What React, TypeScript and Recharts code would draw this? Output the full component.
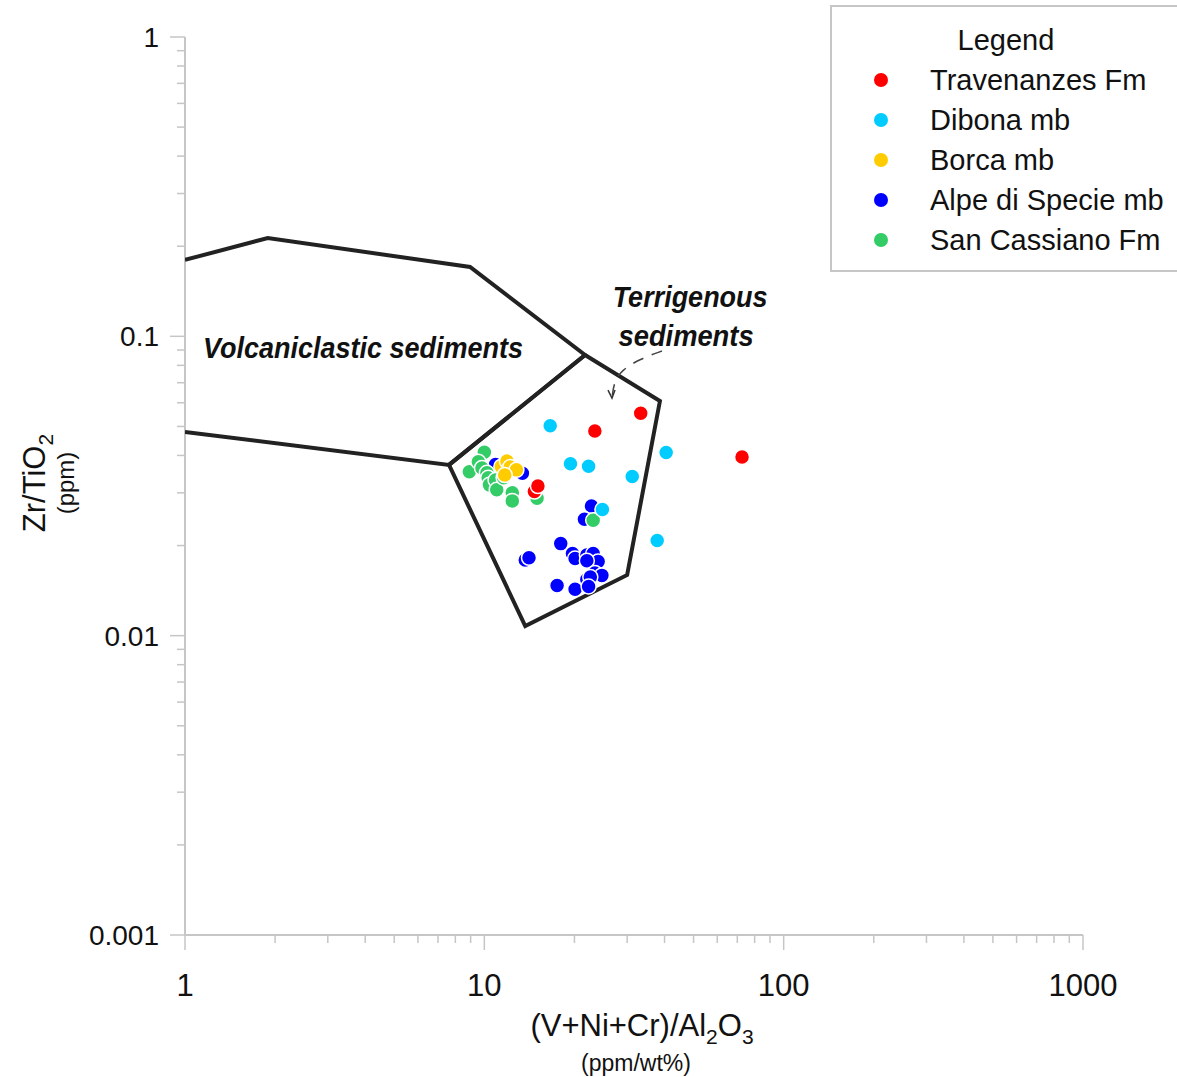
import React from 'react';
import { ScatterChart, Scatter, XAxis, YAxis } from 'recharts';

// tick values (decades get a label, the rest are minor ticks)
const xDecades = [1, 10, 100];
const yDecades = [0.001, 0.01, 0.1];
const minorSteps = [1, 2, 3, 4, 5, 6, 7, 8, 9];
const xTicks = [...xDecades.flatMap((d) => minorSteps.map((m) => +(d * m).toPrecision(3))), 1000];
const yTicks = [...yDecades.flatMap((d) => minorSteps.map((m) => +(d * m).toPrecision(3))), 1];

// sample series, (V+Ni+Cr)/Al2O3 vs Zr/TiO2
const travenanzes = [
  { x: 33.3, y: 0.0553 },
  { x: 23.4, y: 0.0483 },
  { x: 14.7, y: 0.0303 },
  { x: 15.1, y: 0.0316 },
  { x: 72.6, y: 0.0395 },
];

const dibona = [
  { x: 16.6, y: 0.0503 },
  { x: 19.4, y: 0.0375 },
  { x: 22.3, y: 0.0368 },
  { x: 31.2, y: 0.034 },
  { x: 40.5, y: 0.0409 },
  { x: 24.8, y: 0.0264 },
  { x: 37.8, y: 0.0208 },
];

const borca = [
  { x: 11.4, y: 0.0367 },
  { x: 11.9, y: 0.0383 },
  { x: 12.2, y: 0.0366 },
  { x: 12.8, y: 0.0358 },
  { x: 11.7, y: 0.0344 },
];

const alpe = [
  { x: 10.9, y: 0.0373 },
  { x: 13.4, y: 0.0349 },
  { x: 22.8, y: 0.0271 },
  { x: 21.6, y: 0.0245 },
  { x: 18.0, y: 0.0203 },
  { x: 13.7, y: 0.0179 },
  { x: 14.1, y: 0.0182 },
  { x: 19.7, y: 0.0188 },
  { x: 20.1, y: 0.0181 },
  { x: 22.0, y: 0.0186 },
  { x: 23.1, y: 0.0188 },
  { x: 24.0, y: 0.0177 },
  { x: 22.0, y: 0.0178 },
  { x: 23.4, y: 0.0162 },
  { x: 24.7, y: 0.0159 },
  { x: 22.0, y: 0.0154 },
  { x: 22.6, y: 0.0157 },
  { x: 17.5, y: 0.0147 },
  { x: 20.1, y: 0.0143 },
  { x: 22.3, y: 0.0146 },
];

const sanCassiano = [
  { x: 10.0, y: 0.041 },
  { x: 8.91, y: 0.0353 },
  { x: 9.55, y: 0.0381 },
  { x: 9.82, y: 0.0363 },
  { x: 10.2, y: 0.035 },
  { x: 10.3, y: 0.0337 },
  { x: 10.4, y: 0.0319 },
  { x: 10.9, y: 0.0331 },
  { x: 11.0, y: 0.0307 },
  { x: 11.6, y: 0.0337 },
  { x: 12.4, y: 0.03 },
  { x: 12.4, y: 0.0282 },
  { x: 15.0, y: 0.0288 },
  { x: 23.1, y: 0.0243 },
];

// field boundaries
const volcaniclasticField = [
  { x: 1, y: 0.18 },
  { x: 1.89, y: 0.213 },
  { x: 8.96, y: 0.1705 },
  { x: 21.7, y: 0.0866 },
  { x: 7.62, y: 0.0372 },
  { x: 1, y: 0.0479 },
];

const terrigenousField = [
  { x: 21.7, y: 0.0866 },
  { x: 38.6, y: 0.0608 },
  { x: 30.0, y: 0.01595 },
  { x: 13.7, y: 0.01077 },
  { x: 7.62, y: 0.0372 },
  { x: 21.7, y: 0.0866 },
];

const arrowPath = [
  { x: 39.2, y: 0.0893 },
  { x: 33.1, y: 0.084 },
  { x: 28.8, y: 0.0772 },
  { x: 27.1, y: 0.0704 },
  { x: 26.7, y: 0.0622 },
];

const series = [
  { name: 'Alpe di Specie mb', color: '#0000ff', data: alpe },
  { name: 'San Cassiano Fm', color: '#33cc66', data: sanCassiano },
  { name: 'Borca mb', color: '#ffcc00', data: borca },
  { name: 'Dibona mb', color: '#00ccff', data: dibona },
  { name: 'Travenanzes Fm', color: '#ff0000', data: travenanzes },
];

const legendOrder = ['Travenanzes Fm', 'Dibona mb', 'Borca mb', 'Alpe di Specie mb', 'San Cassiano Fm'];

const FONT = '"Liberation Sans", Arial, sans-serif';
const AXIS_GREY = '#c6c6c6';

const isDecade = (v: number) => Math.abs(Math.log10(v) - Math.round(Math.log10(v))) < 1e-6;

const XTick = (props: any) => {
  const { x, y, payload } = props;
  const major = isDecade(payload.value);
  return (
    <g>
      <line x1={x} y1={y} x2={x} y2={y + (major ? 15 : 8)} stroke={AXIS_GREY} strokeWidth={1.5} />
      {major && (
        <text x={x} y={y + 61} textAnchor="middle" fontSize={31} fontFamily={FONT} fill="#111">
          {String(payload.value)}
        </text>
      )}
    </g>
  );
};

const YTick = (props: any) => {
  const { x, y, payload } = props;
  const major = isDecade(payload.value);
  return (
    <g>
      <line x1={x} y1={y} x2={x - (major ? 15 : 8)} y2={y} stroke={AXIS_GREY} strokeWidth={1.5} />
      {major && (
        <text x={x - 26} y={y + 10} textAnchor="end" fontSize={28} fontFamily={FONT} fill="#111">
          {String(payload.value)}
        </text>
      )}
    </g>
  );
};

const XTitle = (props: any) => {
  const vb = props.viewBox || { x: 185, y: 935, width: 898 };
  const cx = vb.x + vb.width / 2 + 8;
  return (
    <g fontFamily={FONT} fill="#111">
      <text x={cx} y={vb.y + 101} textAnchor="middle" fontSize={31}>
        <tspan>(V+Ni+Cr)/Al</tspan>
        <tspan fontSize={21} dy={8}>2</tspan>
        <tspan dy={-8}>O</tspan>
        <tspan fontSize={21} dy={8}>3</tspan>
      </text>
      <text x={cx - 6} y={vb.y + 136} textAnchor="middle" fontSize={23}>
        (ppm/wt%)
      </text>
    </g>
  );
};

const YTitle = (props: any) => {
  const vb = props.viewBox || { x: 0, y: 37, height: 898 };
  const cy = vb.y + 446;
  return (
    <g fontFamily={FONT} fill="#111">
      <text x={45} y={cy} transform={`rotate(-90, 45, ${cy})`} textAnchor="middle" fontSize={31}>
        <tspan>Zr/TiO</tspan>
        <tspan fontSize={21} dy={8}>2</tspan>
      </text>
      <text x={74} y={cy} transform={`rotate(-90, 74, ${cy})`} textAnchor="middle" fontSize={24}>
        (ppm)
      </text>
    </g>
  );
};

const Dot = (props: any) => {
  const { cx, cy, fill } = props;
  return <circle cx={cx} cy={cy} r={7.5} fill={fill} stroke="#fff" strokeWidth={1.5} />;
};

const Empty = () => <g />;

const labelShape = (text: string, width: number) => (props: any) => (
  <text
    x={props.cx}
    y={props.cy + 11}
    textAnchor="middle"
    fontSize={30}
    fontWeight="bold"
    fontStyle="italic"
    fontFamily={FONT}
    fill="#111"
    textLength={width}
    lengthAdjust="spacingAndGlyphs"
  >
    {text}
  </text>
);

const ArrowHead = (props: any) => {
  const { cx, cy } = props;
  return (
    <path
      d={`M ${cx - 4} ${cy - 8} L ${cx} ${cy} L ${cx + 3} ${cy - 8}`}
      fill="none"
      stroke="#333"
      strokeWidth={1.5}
    />
  );
};

const App: React.FC = () => {
  return (
    <div style={{ position: 'absolute', left: 0, top: 0, width: 1177, height: 1077, background: '#fff' }}>
      <ScatterChart width={1177} height={1077} margin={{ top: 37, right: 94, bottom: 0, left: 0 }}>
        <XAxis
          type="number"
          dataKey="x"
          scale="log"
          domain={[1, 1000]}
          ticks={xTicks}
          interval={0}
          allowDataOverflow
          height={142}
          tickSize={0}
          tickMargin={0}
          tickLine={false}
          axisLine={{ stroke: AXIS_GREY, strokeWidth: 2 }}
          tick={<XTick />}
          label={<XTitle />}
        />
        <YAxis
          type="number"
          dataKey="y"
          scale="log"
          domain={[0.001, 1]}
          ticks={yTicks}
          interval={0}
          allowDataOverflow
          width={185}
          tickSize={0}
          tickMargin={0}
          tickLine={false}
          axisLine={{ stroke: AXIS_GREY, strokeWidth: 2 }}
          tick={<YTick />}
          label={<YTitle />}
        />

        <Scatter
          data={volcaniclasticField}
          line={{ stroke: '#222', strokeWidth: 4, strokeLinejoin: 'miter' }}
          lineJointType="linear"
          shape={<Empty />}
          legendType="none"
          isAnimationActive={false}
        />
        <Scatter
          data={terrigenousField}
          line={{ stroke: '#222', strokeWidth: 4, strokeLinejoin: 'miter' }}
          lineJointType="linear"
          shape={<Empty />}
          legendType="none"
          isAnimationActive={false}
        />
        <Scatter
          data={arrowPath}
          line={{ stroke: '#444', strokeWidth: 1.5, strokeDasharray: '11 9' }}
          lineJointType="basis"
          shape={<Empty />}
          legendType="none"
          isAnimationActive={false}
        />
        <Scatter
          data={[arrowPath[arrowPath.length - 1]]}
          shape={<ArrowHead />}
          legendType="none"
          isAnimationActive={false}
        />

        <Scatter
          data={[{ x: 3.93, y: 0.0921 }]}
          shape={labelShape('Volcaniclastic sediments', 320)}
          legendType="none"
          isAnimationActive={false}
        />
        <Scatter
          data={[{ x: 48.7, y: 0.1364 }]}
          shape={labelShape('Terrigenous', 155)}
          legendType="none"
          isAnimationActive={false}
        />
        <Scatter
          data={[{ x: 47.2, y: 0.101 }]}
          shape={labelShape('sediments', 135)}
          legendType="none"
          isAnimationActive={false}
        />

        {series.map((s) => (
          <Scatter
            key={s.name}
            name={s.name}
            data={s.data}
            fill={s.color}
            shape={<Dot />}
            isAnimationActive={false}
          />
        ))}
      </ScatterChart>

      <div
        style={{
          position: 'absolute',
          left: 830,
          top: 5,
          width: 347,
          height: 267,
          boxSizing: 'border-box',
          border: `2px solid ${AXIS_GREY}`,
          borderRight: 'none',
          background: '#fff',
          fontFamily: FONT,
          fontSize: 29,
          color: '#111',
        }}
      >
        <div style={{ position: 'absolute', left: 0, width: 348, top: 13, lineHeight: '40px', textAlign: 'center' }}>
          Legend
        </div>
        {legendOrder.map((name, i) => {
          const s = series.find((d) => d.name === name)!;
          return (
            <div key={name} style={{ position: 'absolute', left: 0, top: 53 + i * 40, height: 40, width: 345 }}>
              <span
                style={{
                  position: 'absolute',
                  left: 42,
                  top: 13,
                  width: 14,
                  height: 14,
                  borderRadius: 7,
                  background: s.color,
                }}
              />
              <span style={{ position: 'absolute', left: 98, top: 0, lineHeight: '40px', whiteSpace: 'nowrap' }}>
                {name}
              </span>
            </div>
          );
        })}
      </div>
    </div>
  );
};

export default App;
